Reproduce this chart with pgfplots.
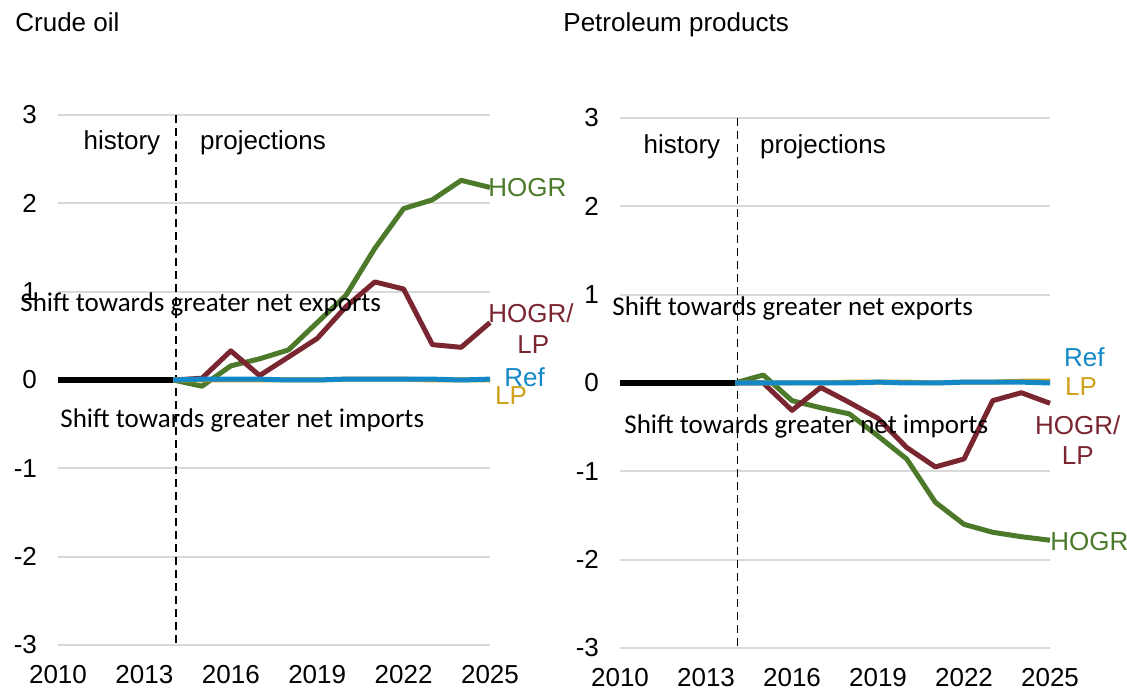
\documentclass[border=0pt]{standalone}
\usepackage{fontspec}
\setmainfont{Liberation Sans}
\newfontfamily\calibri{Carlito}
\usepackage{pgfplots}
\usepackage{pgfplotstable}
\pgfplotsset{compat=1.18}

\definecolor{hogr}{HTML}{4C7A2A}
\definecolor{hogrlp}{HTML}{7A2631}
\definecolor{refc}{HTML}{1288C8}
\definecolor{lpc}{HTML}{CFA11B}
\definecolor{gridc}{HTML}{D9D9D9}

% crude oil, million b/d difference from reference
\pgfplotstableread{
year Ref LP HOGR HOGRLP
2014 0 0 0 0
2015 0.01 0 -0.07 0.02
2016 0.01 0 0.16 0.33
2017 0.01 0 0.24 0.05
2018 0.00 0 0.34 0.26
2019 0.00 0 0.65 0.47
2020 0.01 0.01 0.96 0.83
2021 0.01 0.01 1.49 1.11
2022 0.01 0.01 1.94 1.03
2023 0.01 0 2.04 0.40
2024 0.00 0 2.26 0.37
2025 0.01 0 2.18 0.65
}\crude

% petroleum products
\pgfplotstableread{
year Ref LP HOGR HOGRLP
2014 0 0 0 0
2015 0 0 0.09 0
2016 0 0 -0.20 -0.31
2017 0 0 -0.28 -0.05
2018 0 0.01 -0.35 -0.22
2019 0.01 0.01 -0.60 -0.40
2020 0 0.01 -0.86 -0.73
2021 0 0 -1.35 -0.95
2022 0.01 0.01 -1.60 -0.86
2023 0.01 0.01 -1.69 -0.20
2024 0.01 0.02 -1.74 -0.11
2025 0 0.02 -1.78 -0.23
}\products

\pgfplotstableread{
year val
2010 0
2011 0
2012 0
2013 0
2014 0
}\hist

\pgfplotsset{
  panel/.style={
    scale only axis, width=216pt, height=265pt,
    xmin=2010, xmax=2025, ymin=-3, ymax=3,
    xtick={2010,2013,2016,2019,2022,2025},
    ytick={-3,-2,-1,0,1,2,3},
    axis line style={draw=none}, major tick style={draw=none},
    ymajorgrids, grid style={color=gridc, line width=1pt},
    clip=false,
    /pgf/number format/assume math mode=true,
    /pgf/number format/1000 sep={},
    tick label style={font=\fontsize{13}{15}\selectfont},
    xticklabel style={anchor=center, yshift=-15pt},
    yticklabel style={xshift=-7pt},
  },
  serie/.style={line width=2.5pt, line join=round, mark=none},
}
\tikzset{divider/.style={black, line width=0.9pt, dash pattern=on 4pt off 2.5pt}}

\newcommand{\annot}{\fontsize{13}{15}\selectfont}
\newcommand{\shift}{\calibri\fontsize{13.5}{15}\selectfont}

\begin{document}
\begin{tikzpicture}
\path[use as bounding box] (0,0) rectangle (563.5pt,345pt);
\node[anchor=west, inner sep=0pt, font=\annot] at (7.5pt,334pt) {Crude oil};
\node[anchor=west, inner sep=0pt, font=\annot] at (281.5pt,332.5pt) {Petroleum products};

\begin{axis}[panel, at={(29pt,22.5pt)}, anchor=south west]
\draw[divider] (axis cs:2014.1,3) -- (axis cs:2014.1,-3);
\addplot[serie, hogr] table[x=year, y=HOGR] {\crude};
\addplot[serie, hogrlp] table[x=year, y=HOGRLP] {\crude};
\addplot[serie, lpc] table[x=year, y=LP] {\crude};
\addplot[serie, refc] table[x=year, y=Ref] {\crude};
\addplot[serie, black, line width=3pt] table[x=year, y=val] {\hist};
\node[font=\annot] at (axis cs:2012.22,2.68) {history};
\node[font=\annot] at (axis cs:2017.12,2.68) {projections};
\node[anchor=west, inner sep=0pt, font=\shift] at (axis cs:2008.68,0.86) {Shift towards greater net exports};
\node[anchor=west, inner sep=0pt, font=\shift] at (axis cs:2010.07,-0.46) {Shift towards greater net imports};
\node[anchor=west, inner sep=0pt, font=\annot, text=hogr] at (axis cs:2024.93,2.18) {HOGR};
\node[anchor=west, inner sep=0pt, font=\annot, text=hogrlp] at (axis cs:2024.93,0.76) {HOGR/};
\node[font=\annot, text=hogrlp] at (axis cs:2026.5,0.40) {LP};
\node[font=\annot, text=refc] at (axis cs:2026.2,0.03) {Ref};
\node[font=\annot, text=lpc] at (axis cs:2025.73,-0.18) {LP};
\end{axis}

\begin{axis}[panel, at={(310pt,21pt)}, anchor=south west, width=215pt]
\draw[divider] (axis cs:2014.1,3) -- (axis cs:2014.1,-3);
\addplot[serie, hogr] table[x=year, y=HOGR] {\products};
\addplot[serie, hogrlp] table[x=year, y=HOGRLP] {\products};
\addplot[serie, lpc] table[x=year, y=LP] {\products};
\addplot[serie, refc] table[x=year, y=Ref] {\products};
\addplot[serie, black, line width=3pt] table[x=year, y=val] {\hist};
\node[font=\annot] at (axis cs:2012.16,2.67) {history};
\node[font=\annot] at (axis cs:2017.08,2.67) {projections};
\node[anchor=west, inner sep=0pt, font=\shift] at (axis cs:2009.72,0.84) {Shift towards greater net exports};
\node[anchor=west, inner sep=0pt, font=\shift] at (axis cs:2010.14,-0.49) {Shift towards greater net imports};
\node[font=\annot, text=refc] at (axis cs:2026.2,0.29) {Ref};
\node[font=\annot, text=lpc] at (axis cs:2026.08,-0.04) {LP};
\node[font=\annot, text=hogrlp] at (axis cs:2025.97,-0.48) {HOGR/};
\node[font=\annot, text=hogrlp] at (axis cs:2025.97,-0.82) {LP};
\node[anchor=west, inner sep=0pt, font=\annot, text=hogr] at (axis cs:2025.0,-1.8) {HOGR};
\end{axis}
\end{tikzpicture}
\end{document}
